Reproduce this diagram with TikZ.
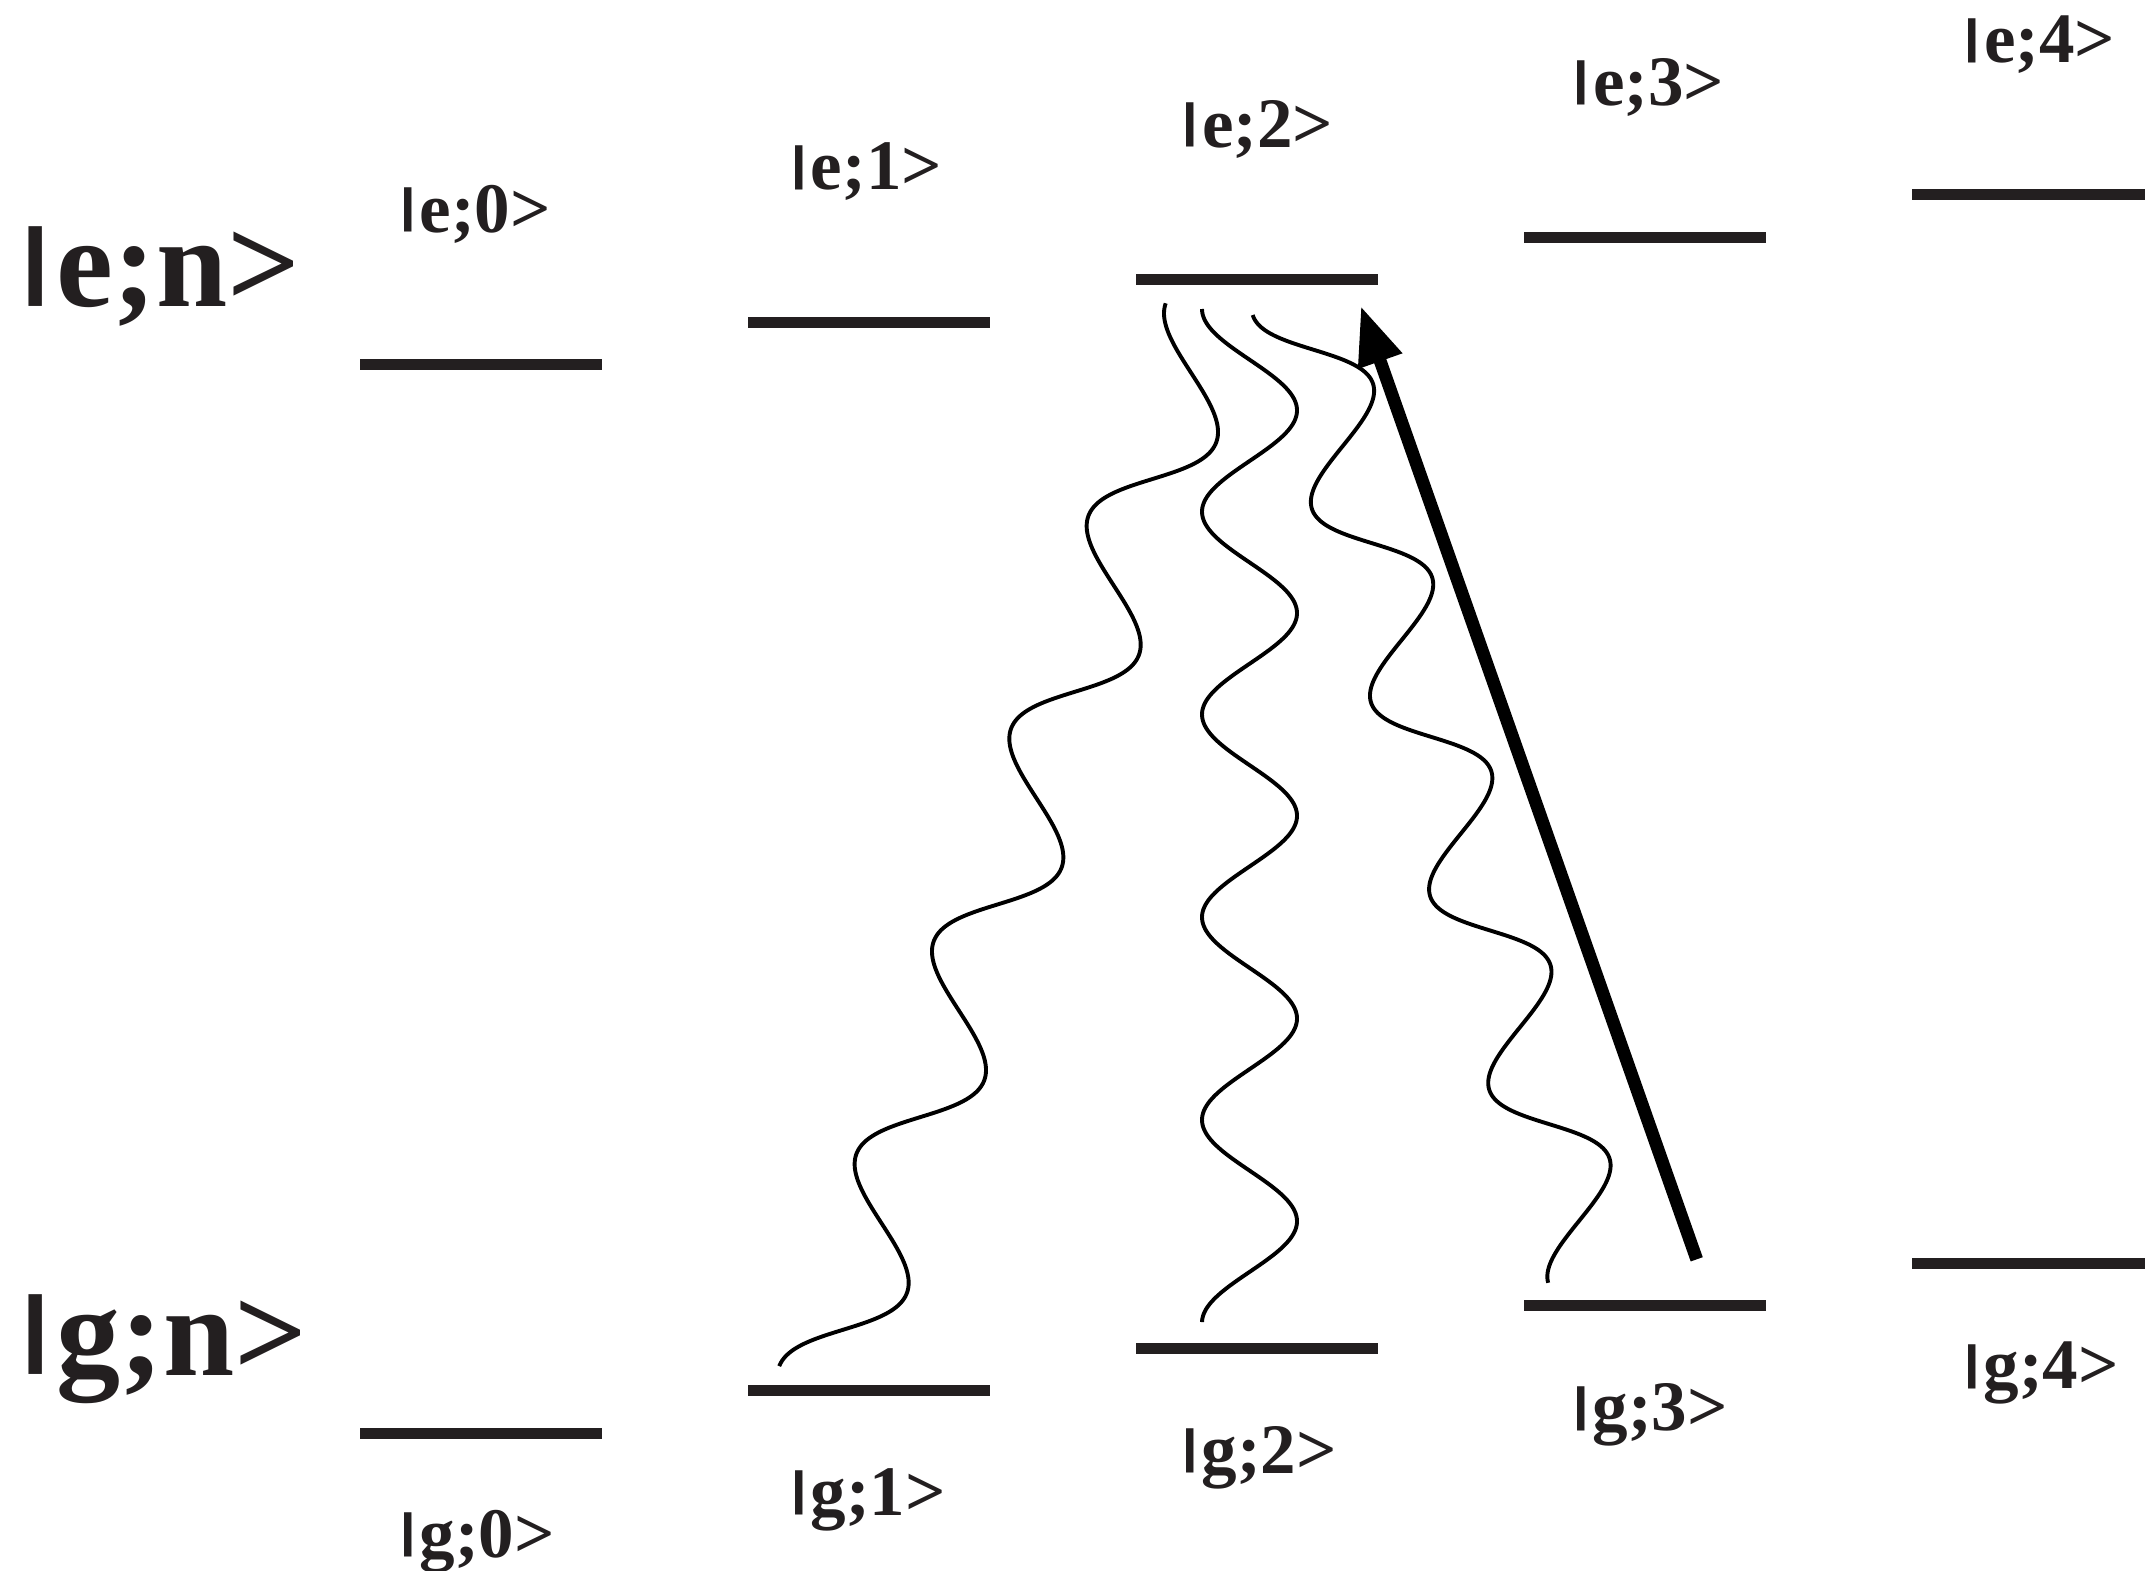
\documentclass[tikz,border=0pt]{standalone}
\usepackage{fontspec}
\setmainfont{Liberation Serif}
\usetikzlibrary{arrows.meta}
\definecolor{ink}{RGB}{35,31,32}
\newcommand\kbar{\scalebox{1.5}[0.685]{\raisebox{0.218em}{|}}}
\newcommand\wavy[5]{%
  \coordinate (#1t) at (#2,#3);
  \coordinate (#1b) at (#4,#5);
  \pgfmathsetmacro\wdx{#4-#2}%
  \pgfmathsetmacro\wdy{#5-#3}%
  \pgfmathsetmacro\wlen{100*veclen(\wdx/100,\wdy/100)}%
  \pgfmathsetmacro\wnx{47.5*(\wdy/\wlen)}%
  \pgfmathsetmacro\wny{-47.5*(\wdx/\wlen)}%
  \draw[wave] plot[domain=0:1,samples=501,variable=\t]
    ({#2+\t*\wdx+\wnx*(1-cos(1800*\t))},{#3+\t*\wdy+\wny*(1-cos(1800*\t))});
}
\begin{document}
\begin{tikzpicture}[x=0.5pt,y=-0.5pt,
  level/.style={draw=ink,line width=5.5pt},
  lab/.style={font=\fontsize{35.5}{40}\selectfont\bfseries,text=ink,inner sep=0pt,anchor=base},
  big/.style={font=\fontsize{64}{70}\selectfont\bfseries,text=ink,inner sep=0pt,anchor=base west},
  wave/.style={line width=1.95pt,draw=black,line join=round},
  pump/.style={line width=6.4pt,draw=black,-{Triangle[length=29.4pt,width=21.6pt]}}]
\clip (0,0) rectangle (2145,1570);
\fill[white] (0,0) rectangle (2145,1570);
% levels
\foreach \n in {0,...,4}{
  \pgfmathsetmacro\xl{360+388*\n}
  \pgfmathsetmacro\xr{\xl+242}
  \pgfmathsetmacro\ye{364.5-42.5*\n}
  \pgfmathsetmacro\yg{1433-42.5*\n}
  \coordinate (e\n l) at (\xl,\ye);
  \coordinate (e\n r) at (\xr,\ye);
  \coordinate (g\n l) at (\xl,\yg);
  \coordinate (g\n r) at (\xr,\yg);
  \draw[level] (e\n l) -- (e\n r);
  \draw[level] (g\n l) -- (g\n r);
}
% labels
\foreach \n/\xe/\xg in {0/473.5/475.5,1/864.7/866.5,2/1256/1257.5,3/1647/1648.5,4/2038/2039.5}{
  \node[lab] (le\n) at (\xe,{232-42.3*\n}) {\kbar e;\n>};
  \node[lab] (lg\n) at (\xg,{1557.5-42.2*\n}) {\kbar g;\n>};
}
\node[big] (bige) at (14,306.7) {\kbar e;n>};
\node[big] (bigg) at (14,1375) {\kbar g;n>};
% emission waves
\wavy{wa}{1165.7}{303.3}{779}{1366.7}
\wavy{wb}{1202}{309}{1202}{1322.6}
\wavy{wc}{1252.7}{315}{1548.3}{1283.3}
% pump arrow
\coordinate (ptail) at (1696.7,1259.3);
\coordinate (ptip) at (1360.7,305.7);
\draw[pump] (ptail) -- (ptip);
\end{tikzpicture}
\end{document}
